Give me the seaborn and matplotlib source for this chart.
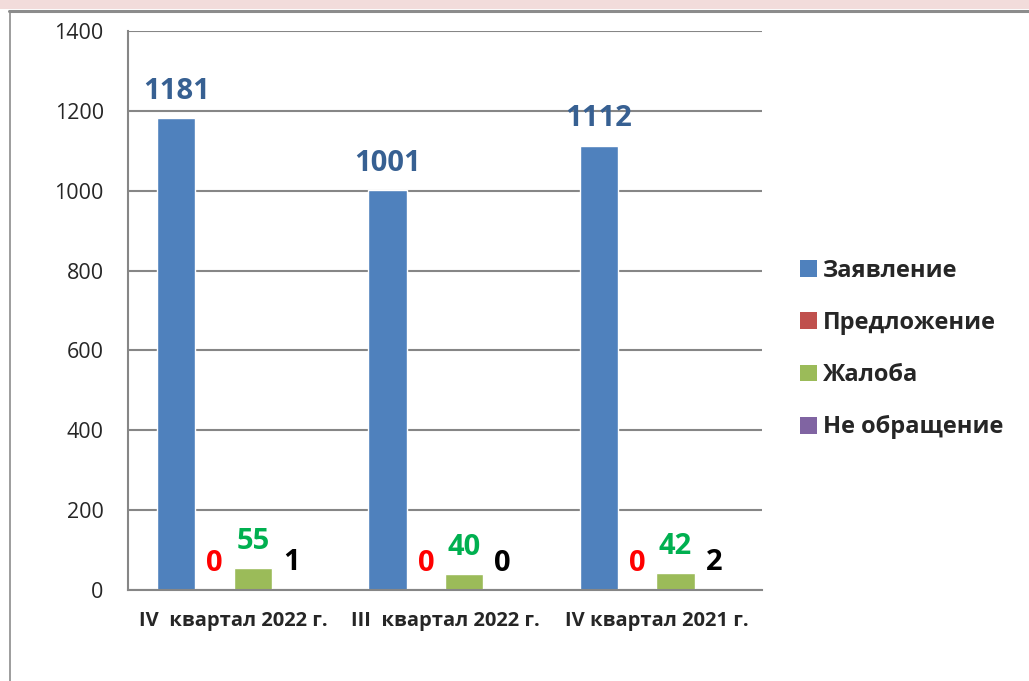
import pandas as pd
import seaborn as sns
from matplotlib import pyplot as plt
from matplotlib.patches import Patch, Rectangle
from matplotlib.lines import Line2D

# данные
periods = ['IV  квартал 2022 г.', 'III  квартал 2022 г.', 'IV квартал 2021 г.']
series = ['Заявление', 'Предложение', 'Жалоба', 'Не обращение']
zayavlenie = [1181, 1001, 1112]
predlozhenie = [0, 0, 0]
zhaloba = [55, 40, 42]
ne_obrashchenie = [1, 0, 2]

bar_colors = ['#4f81bd', '#c0504d', '#9bbb59', '#8064a2']
label_colors = ['#376092', '#ff0000', '#00b050', '#000000']

rows = []
for name, vals in zip(series, [zayavlenie, predlozhenie, zhaloba, ne_obrashchenie]):
    for p, v in zip(periods, vals):
        rows.append({'period': p, 'type': name, 'count': v})
df = pd.DataFrame(rows)

sns.set_style('white')
plt.rcParams['font.family'] = ['Open Sans', 'DejaVu Sans']

fig = plt.figure(figsize=(10.29, 6.81), dpi=100)
ax = fig.add_axes([0.1244, 0.1336, 0.6161, 0.8209])

sns.barplot(data=df, x='period', y='count', hue='type', order=periods, hue_order=series,
            palette=bar_colors, saturation=1, width=0.725, gap=0, legend=False, ax=ax)

# подписи значений
for cont, col in zip(ax.containers, label_colors):
    ax.bar_label(cont, fmt='%d', padding=9, color=col, fontsize=21, fontweight='bold')

ax.set_ylim(0, 1400)
ax.set_yticks(range(0, 1401, 200))
ax.set_xlim(-0.5, 2.5)
ax.set_xticks([-0.5, 0.5, 1.5, 2.5])
ax.set_xticklabels([])
ax.set_xticks([0, 1, 2], minor=True)
ax.set_xticklabels(periods, minor=True, fontsize=14.5, fontweight='bold')
ax.tick_params(axis='x', which='major', direction='out', length=7, width=1.5, color='#868686')
ax.tick_params(axis='x', which='minor', length=0, pad=15)
ax.tick_params(axis='y', direction='inout', length=9, width=1.5, color='#868686', labelsize=15.5, pad=13)
ax.set_xlabel('')
ax.set_ylabel('')

ax.grid(axis='y', color='#868686', linewidth=1.5)
ax.set_axisbelow(True)
for s in ['top', 'right']:
    ax.spines[s].set_visible(False)
for s in ['left', 'bottom']:
    ax.spines[s].set_color('#868686')
    ax.spines[s].set_linewidth(1.5)

# легенда
handles = [Patch(facecolor=c, edgecolor='none') for c in bar_colors]
fig.legend(handles, series, loc='upper left', bbox_to_anchor=(0.7775, 0.6197), frameon=False,
           prop={'weight': 'bold', 'size': 17}, handlelength=0.72, handleheight=0.72,
           handletextpad=0.25, labelspacing=1.19, borderpad=0, borderaxespad=0)

# розовая полоса и рамка сверху/слева
fig.patches.append(Rectangle((0, 1 - 9 / 681), 1, 9 / 681, transform=fig.transFigure,
                             facecolor='#f2dcdb', edgecolor='none', zorder=0))
fig.lines.append(Line2D([9 / 1029, 1], [1 - 10.5 / 681, 1 - 10.5 / 681], transform=fig.transFigure,
                        color='#8c8c8c', linewidth=2.2))
fig.lines.append(Line2D([9.5 / 1029, 9.5 / 1029], [0, 1 - 10.5 / 681], transform=fig.transFigure,
                        color='#8c8c8c', linewidth=1.2))

fig.savefig('out.png', dpi=100)
